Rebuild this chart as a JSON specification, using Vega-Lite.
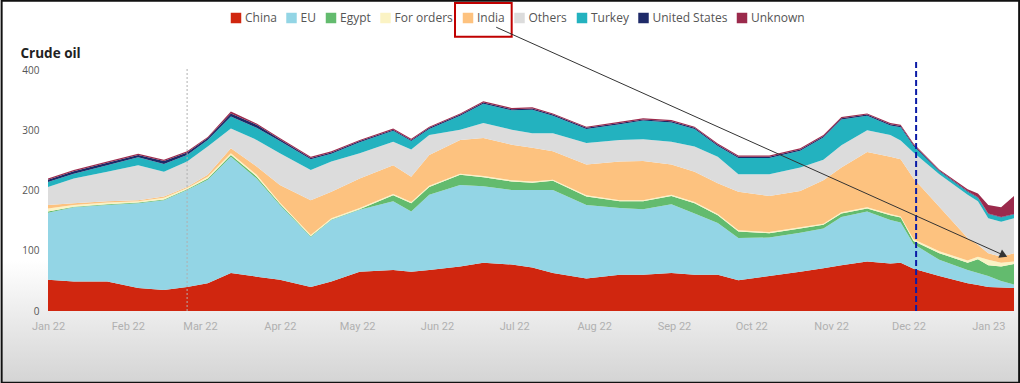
{
"$schema": "https://vega.github.io/schema/vega-lite/v6.json",
"width": 966,
"height": 241,
"autosize": {"type": "none"},
"padding": {"left": 48, "top": 70, "right": 6, "bottom": 72},
"background": "white",
"config": {"view": {"stroke": null}, "font": "Open Sans"},
"datasets": {
"oil": [
{"date":"2022-01-01","country":"China","value":52},{"date":"2022-01-01","country":"EU","value":111},{"date":"2022-01-01","country":"Egypt","value":2},{"date":"2022-01-01","country":"For orders","value":5},{"date":"2022-01-01","country":"India","value":6},{"date":"2022-01-01","country":"Others","value":30},{"date":"2022-01-01","country":"Turkey","value":8},{"date":"2022-01-01","country":"United States","value":4},{"date":"2022-01-01","country":"Unknown","value":2},
{"date":"2022-01-11","country":"China","value":49},{"date":"2022-01-11","country":"EU","value":123},{"date":"2022-01-11","country":"Egypt","value":1},{"date":"2022-01-11","country":"For orders","value":3},{"date":"2022-01-11","country":"India","value":3},{"date":"2022-01-11","country":"Others","value":41},{"date":"2022-01-11","country":"Turkey","value":8},{"date":"2022-01-11","country":"United States","value":4},{"date":"2022-01-11","country":"Unknown","value":2},
{"date":"2022-01-24","country":"China","value":49},{"date":"2022-01-24","country":"EU","value":127},{"date":"2022-01-24","country":"Egypt","value":1},{"date":"2022-01-24","country":"For orders","value":3},{"date":"2022-01-24","country":"India","value":2},{"date":"2022-01-24","country":"Others","value":49},{"date":"2022-01-24","country":"Turkey","value":11},{"date":"2022-01-24","country":"United States","value":4},{"date":"2022-01-24","country":"Unknown","value":2},
{"date":"2022-02-05","country":"China","value":38},{"date":"2022-02-05","country":"EU","value":141},{"date":"2022-02-05","country":"Egypt","value":1},{"date":"2022-02-05","country":"For orders","value":2},{"date":"2022-02-05","country":"India","value":2},{"date":"2022-02-05","country":"Others","value":58},{"date":"2022-02-05","country":"Turkey","value":13},{"date":"2022-02-05","country":"United States","value":4},{"date":"2022-02-05","country":"Unknown","value":2},
{"date":"2022-02-15","country":"China","value":35},{"date":"2022-02-15","country":"EU","value":149},{"date":"2022-02-15","country":"Egypt","value":1},{"date":"2022-02-15","country":"For orders","value":3},{"date":"2022-02-15","country":"India","value":2},{"date":"2022-02-15","country":"Others","value":41},{"date":"2022-02-15","country":"Turkey","value":13},{"date":"2022-02-15","country":"United States","value":5},{"date":"2022-02-15","country":"Unknown","value":2},
{"date":"2022-02-24","country":"China","value":40},{"date":"2022-02-24","country":"EU","value":161},{"date":"2022-02-24","country":"Egypt","value":1},{"date":"2022-02-24","country":"For orders","value":2},{"date":"2022-02-24","country":"India","value":2},{"date":"2022-02-24","country":"Others","value":42},{"date":"2022-02-24","country":"Turkey","value":11},{"date":"2022-02-24","country":"United States","value":4},{"date":"2022-02-24","country":"Unknown","value":2},
{"date":"2022-03-04","country":"China","value":46},{"date":"2022-03-04","country":"EU","value":172},{"date":"2022-03-04","country":"Egypt","value":2},{"date":"2022-03-04","country":"For orders","value":3},{"date":"2022-03-04","country":"India","value":3},{"date":"2022-03-04","country":"Others","value":47},{"date":"2022-03-04","country":"Turkey","value":11},{"date":"2022-03-04","country":"United States","value":3},{"date":"2022-03-04","country":"Unknown","value":2},
{"date":"2022-03-13","country":"China","value":63},{"date":"2022-03-13","country":"EU","value":193},{"date":"2022-03-13","country":"Egypt","value":3},{"date":"2022-03-13","country":"For orders","value":3},{"date":"2022-03-13","country":"India","value":8},{"date":"2022-03-13","country":"Others","value":33},{"date":"2022-03-13","country":"Turkey","value":20},{"date":"2022-03-13","country":"United States","value":5},{"date":"2022-03-13","country":"Unknown","value":3},
{"date":"2022-03-23","country":"China","value":57},{"date":"2022-03-23","country":"EU","value":163},{"date":"2022-03-23","country":"Egypt","value":3},{"date":"2022-03-23","country":"For orders","value":3},{"date":"2022-03-23","country":"India","value":14},{"date":"2022-03-23","country":"Others","value":44},{"date":"2022-03-23","country":"Turkey","value":20},{"date":"2022-03-23","country":"United States","value":5},{"date":"2022-03-23","country":"Unknown","value":2},
{"date":"2022-04-01","country":"China","value":52},{"date":"2022-04-01","country":"EU","value":124},{"date":"2022-04-01","country":"Egypt","value":2},{"date":"2022-04-01","country":"For orders","value":2},{"date":"2022-04-01","country":"India","value":29},{"date":"2022-04-01","country":"Others","value":53},{"date":"2022-04-01","country":"Turkey","value":20},{"date":"2022-04-01","country":"United States","value":3},{"date":"2022-04-01","country":"Unknown","value":2},
{"date":"2022-04-13","country":"China","value":40},{"date":"2022-04-13","country":"EU","value":83},{"date":"2022-04-13","country":"Egypt","value":1},{"date":"2022-04-13","country":"For orders","value":2},{"date":"2022-04-13","country":"India","value":58},{"date":"2022-04-13","country":"Others","value":50},{"date":"2022-04-13","country":"Turkey","value":18},{"date":"2022-04-13","country":"United States","value":2},{"date":"2022-04-13","country":"Unknown","value":2},
{"date":"2022-04-21","country":"China","value":49},{"date":"2022-04-21","country":"EU","value":102},{"date":"2022-04-21","country":"Egypt","value":1},{"date":"2022-04-21","country":"For orders","value":2},{"date":"2022-04-21","country":"India","value":44},{"date":"2022-04-21","country":"Others","value":50},{"date":"2022-04-21","country":"Turkey","value":13},{"date":"2022-04-21","country":"United States","value":2},{"date":"2022-04-21","country":"Unknown","value":2},
{"date":"2022-05-02","country":"China","value":65},{"date":"2022-05-02","country":"EU","value":103},{"date":"2022-05-02","country":"Egypt","value":1},{"date":"2022-05-02","country":"For orders","value":2},{"date":"2022-05-02","country":"India","value":49},{"date":"2022-05-02","country":"Others","value":42},{"date":"2022-05-02","country":"Turkey","value":18},{"date":"2022-05-02","country":"United States","value":2},{"date":"2022-05-02","country":"Unknown","value":2},
{"date":"2022-05-15","country":"China","value":68},{"date":"2022-05-15","country":"EU","value":114},{"date":"2022-05-15","country":"Egypt","value":10},{"date":"2022-05-15","country":"For orders","value":2},{"date":"2022-05-15","country":"India","value":48},{"date":"2022-05-15","country":"Others","value":39},{"date":"2022-05-15","country":"Turkey","value":18},{"date":"2022-05-15","country":"United States","value":2},{"date":"2022-05-15","country":"Unknown","value":2},
{"date":"2022-05-22","country":"China","value":65},{"date":"2022-05-22","country":"EU","value":100},{"date":"2022-05-22","country":"Egypt","value":14},{"date":"2022-05-22","country":"For orders","value":2},{"date":"2022-05-22","country":"India","value":42},{"date":"2022-05-22","country":"Others","value":45},{"date":"2022-05-22","country":"Turkey","value":14},{"date":"2022-05-22","country":"United States","value":2},{"date":"2022-05-22","country":"Unknown","value":2},
{"date":"2022-05-29","country":"China","value":68},{"date":"2022-05-29","country":"EU","value":125},{"date":"2022-05-29","country":"Egypt","value":13},{"date":"2022-05-29","country":"For orders","value":2},{"date":"2022-05-29","country":"India","value":51},{"date":"2022-05-29","country":"Others","value":33},{"date":"2022-05-29","country":"Turkey","value":10},{"date":"2022-05-29","country":"United States","value":2},{"date":"2022-05-29","country":"Unknown","value":2},
{"date":"2022-06-10","country":"China","value":74},{"date":"2022-06-10","country":"EU","value":135},{"date":"2022-06-10","country":"Egypt","value":17},{"date":"2022-06-10","country":"For orders","value":2},{"date":"2022-06-10","country":"India","value":56},{"date":"2022-06-10","country":"Others","value":17},{"date":"2022-06-10","country":"Turkey","value":23},{"date":"2022-06-10","country":"United States","value":2},{"date":"2022-06-10","country":"Unknown","value":2},
{"date":"2022-06-19","country":"China","value":80},{"date":"2022-06-19","country":"EU","value":127},{"date":"2022-06-19","country":"Egypt","value":15},{"date":"2022-06-19","country":"For orders","value":2},{"date":"2022-06-19","country":"India","value":63},{"date":"2022-06-19","country":"Others","value":25},{"date":"2022-06-19","country":"Turkey","value":32},{"date":"2022-06-19","country":"United States","value":2},{"date":"2022-06-19","country":"Unknown","value":2},
{"date":"2022-06-30","country":"China","value":77},{"date":"2022-06-30","country":"EU","value":124},{"date":"2022-06-30","country":"Egypt","value":14},{"date":"2022-06-30","country":"For orders","value":2},{"date":"2022-06-30","country":"India","value":59},{"date":"2022-06-30","country":"Others","value":25},{"date":"2022-06-30","country":"Turkey","value":32},{"date":"2022-06-30","country":"United States","value":2},{"date":"2022-06-30","country":"Unknown","value":2},
{"date":"2022-07-08","country":"China","value":72},{"date":"2022-07-08","country":"EU","value":129},{"date":"2022-07-08","country":"Egypt","value":12},{"date":"2022-07-08","country":"For orders","value":2},{"date":"2022-07-08","country":"India","value":56},{"date":"2022-07-08","country":"Others","value":24},{"date":"2022-07-08","country":"Turkey","value":39},{"date":"2022-07-08","country":"United States","value":2},{"date":"2022-07-08","country":"Unknown","value":2},
{"date":"2022-07-16","country":"China","value":63},{"date":"2022-07-16","country":"EU","value":138},{"date":"2022-07-16","country":"Egypt","value":15},{"date":"2022-07-16","country":"For orders","value":2},{"date":"2022-07-16","country":"India","value":47},{"date":"2022-07-16","country":"Others","value":30},{"date":"2022-07-16","country":"Turkey","value":29},{"date":"2022-07-16","country":"United States","value":2},{"date":"2022-07-16","country":"Unknown","value":2},
{"date":"2022-07-29","country":"China","value":54},{"date":"2022-07-29","country":"EU","value":122},{"date":"2022-07-29","country":"Egypt","value":14},{"date":"2022-07-29","country":"For orders","value":2},{"date":"2022-07-29","country":"India","value":51},{"date":"2022-07-29","country":"Others","value":36},{"date":"2022-07-29","country":"Turkey","value":23},{"date":"2022-07-29","country":"United States","value":2},{"date":"2022-07-29","country":"Unknown","value":2},
{"date":"2022-08-11","country":"China","value":60},{"date":"2022-08-11","country":"EU","value":111},{"date":"2022-08-11","country":"Egypt","value":11},{"date":"2022-08-11","country":"For orders","value":2},{"date":"2022-08-11","country":"India","value":64},{"date":"2022-08-11","country":"Others","value":36},{"date":"2022-08-11","country":"Turkey","value":26},{"date":"2022-08-11","country":"United States","value":2},{"date":"2022-08-11","country":"Unknown","value":2},
{"date":"2022-08-20","country":"China","value":60},{"date":"2022-08-20","country":"EU","value":109},{"date":"2022-08-20","country":"Egypt","value":13},{"date":"2022-08-20","country":"For orders","value":2},{"date":"2022-08-20","country":"India","value":65},{"date":"2022-08-20","country":"Others","value":36},{"date":"2022-08-20","country":"Turkey","value":31},{"date":"2022-08-20","country":"United States","value":2},{"date":"2022-08-20","country":"Unknown","value":2},
{"date":"2022-08-31","country":"China","value":63},{"date":"2022-08-31","country":"EU","value":114},{"date":"2022-08-31","country":"Egypt","value":14},{"date":"2022-08-31","country":"For orders","value":2},{"date":"2022-08-31","country":"India","value":50},{"date":"2022-08-31","country":"Others","value":38},{"date":"2022-08-31","country":"Turkey","value":32},{"date":"2022-08-31","country":"United States","value":2},{"date":"2022-08-31","country":"Unknown","value":2},
{"date":"2022-09-09","country":"China","value":60},{"date":"2022-09-09","country":"EU","value":102},{"date":"2022-09-09","country":"Egypt","value":17},{"date":"2022-09-09","country":"For orders","value":2},{"date":"2022-09-09","country":"India","value":50},{"date":"2022-09-09","country":"Others","value":42},{"date":"2022-09-09","country":"Turkey","value":29},{"date":"2022-09-09","country":"United States","value":2},{"date":"2022-09-09","country":"Unknown","value":2},
{"date":"2022-09-18","country":"China","value":60},{"date":"2022-09-18","country":"EU","value":86},{"date":"2022-09-18","country":"Egypt","value":13},{"date":"2022-09-18","country":"For orders","value":2},{"date":"2022-09-18","country":"India","value":51},{"date":"2022-09-18","country":"Others","value":44},{"date":"2022-09-18","country":"Turkey","value":18},{"date":"2022-09-18","country":"United States","value":2},{"date":"2022-09-18","country":"Unknown","value":2},
{"date":"2022-09-26","country":"China","value":51},{"date":"2022-09-26","country":"EU","value":70},{"date":"2022-09-26","country":"Egypt","value":11},{"date":"2022-09-26","country":"For orders","value":2},{"date":"2022-09-26","country":"India","value":64},{"date":"2022-09-26","country":"Others","value":29},{"date":"2022-09-26","country":"Turkey","value":27},{"date":"2022-09-26","country":"United States","value":2},{"date":"2022-09-26","country":"Unknown","value":2},
{"date":"2022-10-08","country":"China","value":58},{"date":"2022-10-08","country":"EU","value":64},{"date":"2022-10-08","country":"Egypt","value":7},{"date":"2022-10-08","country":"For orders","value":2},{"date":"2022-10-08","country":"India","value":60},{"date":"2022-10-08","country":"Others","value":36},{"date":"2022-10-08","country":"Turkey","value":27},{"date":"2022-10-08","country":"United States","value":2},{"date":"2022-10-08","country":"Unknown","value":2},
{"date":"2022-10-20","country":"China","value":65},{"date":"2022-10-20","country":"EU","value":65},{"date":"2022-10-20","country":"Egypt","value":7},{"date":"2022-10-20","country":"For orders","value":2},{"date":"2022-10-20","country":"India","value":60},{"date":"2022-10-20","country":"Others","value":39},{"date":"2022-10-20","country":"Turkey","value":28},{"date":"2022-10-20","country":"United States","value":2},{"date":"2022-10-20","country":"Unknown","value":2},
{"date":"2022-10-29","country":"China","value":71},{"date":"2022-10-29","country":"EU","value":66},{"date":"2022-10-29","country":"Egypt","value":6},{"date":"2022-10-29","country":"For orders","value":2},{"date":"2022-10-29","country":"India","value":72},{"date":"2022-10-29","country":"Others","value":34},{"date":"2022-10-29","country":"Turkey","value":37},{"date":"2022-10-29","country":"United States","value":2},{"date":"2022-10-29","country":"Unknown","value":2},
{"date":"2022-11-05","country":"China","value":76},{"date":"2022-11-05","country":"EU","value":80},{"date":"2022-11-05","country":"Egypt","value":6},{"date":"2022-11-05","country":"For orders","value":2},{"date":"2022-11-05","country":"India","value":74},{"date":"2022-11-05","country":"Others","value":37},{"date":"2022-11-05","country":"Turkey","value":43},{"date":"2022-11-05","country":"United States","value":2},{"date":"2022-11-05","country":"Unknown","value":2},
{"date":"2022-11-15","country":"China","value":82},{"date":"2022-11-15","country":"EU","value":83},{"date":"2022-11-15","country":"Egypt","value":5},{"date":"2022-11-15","country":"For orders","value":2},{"date":"2022-11-15","country":"India","value":92},{"date":"2022-11-15","country":"Others","value":36},{"date":"2022-11-15","country":"Turkey","value":24},{"date":"2022-11-15","country":"United States","value":2},{"date":"2022-11-15","country":"Unknown","value":2},
{"date":"2022-11-24","country":"China","value":79},{"date":"2022-11-24","country":"EU","value":72},{"date":"2022-11-24","country":"Egypt","value":8},{"date":"2022-11-24","country":"For orders","value":2},{"date":"2022-11-24","country":"India","value":95},{"date":"2022-11-24","country":"Others","value":36},{"date":"2022-11-24","country":"Turkey","value":16},{"date":"2022-11-24","country":"United States","value":2},{"date":"2022-11-24","country":"Unknown","value":2},
{"date":"2022-11-28","country":"China","value":80},{"date":"2022-11-28","country":"EU","value":67},{"date":"2022-11-28","country":"Egypt","value":8},{"date":"2022-11-28","country":"For orders","value":2},{"date":"2022-11-28","country":"India","value":95},{"date":"2022-11-28","country":"Others","value":31},{"date":"2022-11-28","country":"Turkey","value":22},{"date":"2022-11-28","country":"United States","value":2},{"date":"2022-11-28","country":"Unknown","value":2},
{"date":"2022-12-03","country":"China","value":70},{"date":"2022-12-03","country":"EU","value":41},{"date":"2022-12-03","country":"Egypt","value":5},{"date":"2022-12-03","country":"For orders","value":3},{"date":"2022-12-03","country":"India","value":101},{"date":"2022-12-03","country":"Others","value":43},{"date":"2022-12-03","country":"Turkey","value":11},{"date":"2022-12-03","country":"United States","value":2},{"date":"2022-12-03","country":"Unknown","value":2},
{"date":"2022-12-13","country":"China","value":58},{"date":"2022-12-13","country":"EU","value":27},{"date":"2022-12-13","country":"Egypt","value":11},{"date":"2022-12-13","country":"For orders","value":3},{"date":"2022-12-13","country":"India","value":74},{"date":"2022-12-13","country":"Others","value":54},{"date":"2022-12-13","country":"Turkey","value":5},{"date":"2022-12-13","country":"United States","value":1},{"date":"2022-12-13","country":"Unknown","value":2},
{"date":"2022-12-24","country":"China","value":46},{"date":"2022-12-24","country":"EU","value":22},{"date":"2022-12-24","country":"Egypt","value":12},{"date":"2022-12-24","country":"For orders","value":4},{"date":"2022-12-24","country":"India","value":37},{"date":"2022-12-24","country":"Others","value":72},{"date":"2022-12-24","country":"Turkey","value":5},{"date":"2022-12-24","country":"United States","value":1},{"date":"2022-12-24","country":"Unknown","value":3},
{"date":"2022-12-28","country":"China","value":43},{"date":"2022-12-28","country":"EU","value":20},{"date":"2022-12-28","country":"Egypt","value":23},{"date":"2022-12-28","country":"For orders","value":4},{"date":"2022-12-28","country":"India","value":20},{"date":"2022-12-28","country":"Others","value":72},{"date":"2022-12-28","country":"Turkey","value":6},{"date":"2022-12-28","country":"United States","value":1},{"date":"2022-12-28","country":"Unknown","value":6},
{"date":"2023-01-01","country":"China","value":40},{"date":"2023-01-01","country":"EU","value":18},{"date":"2023-01-01","country":"Egypt","value":18},{"date":"2023-01-01","country":"For orders","value":9},{"date":"2023-01-01","country":"India","value":11},{"date":"2023-01-01","country":"Others","value":58},{"date":"2023-01-01","country":"Turkey","value":7},{"date":"2023-01-01","country":"United States","value":1},{"date":"2023-01-01","country":"Unknown","value":14},
{"date":"2023-01-06","country":"China","value":39},{"date":"2023-01-06","country":"EU","value":11},{"date":"2023-01-06","country":"Egypt","value":24},{"date":"2023-01-06","country":"For orders","value":6},{"date":"2023-01-06","country":"India","value":10},{"date":"2023-01-06","country":"Others","value":58},{"date":"2023-01-06","country":"Turkey","value":7},{"date":"2023-01-06","country":"United States","value":1},{"date":"2023-01-06","country":"Unknown","value":16},
{"date":"2023-01-11","country":"China","value":38},{"date":"2023-01-11","country":"EU","value":6},{"date":"2023-01-11","country":"Egypt","value":34},{"date":"2023-01-11","country":"For orders","value":4},{"date":"2023-01-11","country":"India","value":14},{"date":"2023-01-11","country":"Others","value":58},{"date":"2023-01-11","country":"Turkey","value":6},{"date":"2023-01-11","country":"United States","value":1},{"date":"2023-01-11","country":"Unknown","value":30}
]
},
"layer": [
{
"data": {"values": [{"start": "2021-12-14", "end": "2023-01-13", "top": 515, "bottom": -119}]},
"mark": {"type": "rect", "stroke": "#111111", "strokeWidth": 2, "fill": {"gradient": "linear", "x1": 0, "y1": 0, "x2": 0, "y2": 1, "stops": [{"offset": 0, "color": "#ffffff"}, {"offset": 0.68, "color": "#ffffff"}, {"offset": 1, "color": "#d4d4d4"}]}},
"encoding": {
"x": {"field": "start", "type": "temporal", "scale": {"type": "utc", "domain": [{"year": 2022, "month": 1, "date": 1, "utc": true}, {"year": 2023, "month": 1, "date": 11, "utc": true}], "nice": false}},
"x2": {"field": "end"},
"y": {"field": "top", "type": "quantitative", "scale": {"domain": [0, 400], "nice": false}},
"y2": {"field": "bottom"}
}
},
{
"data": {"name": "oil"},
"mark": {"type": "area", "interpolate": "linear"},
"encoding": {
"x": {"field": "date", "type": "temporal", "scale": {"type": "utc", "domain": [{"year": 2022, "month": 1, "date": 1, "utc": true}, {"year": 2023, "month": 1, "date": 11, "utc": true}], "nice": false},
"axis": {"title": null, "format": "%b %y", "tickCount": {"interval": "month", "step": 1}, "labelFlush": false, "labelOverlap": false, "domain": false, "ticks": false, "grid": false, "labelColor": "#b0b0b0", "labelFontSize": 11, "labelFont": "Roboto", "labelPadding": 9, "zindex": 1}},
"y": {"field": "value", "type": "quantitative", "stack": "zero", "scale": {"domain": [0, 400], "nice": false},
"axis": {"values": [0, 100, 200, 300, 400], "domain": false, "ticks": false, "grid": false, "labelColor": "#555555", "labelFontSize": 10, "labelFont": "Open Sans", "labelPadding": 9, "title": "Crude oil", "titleAngle": 0, "titleAlign": "left", "titleBaseline": "alphabetic", "titleX": -28, "titleY": -13, "titleFontSize": 13.5, "titleFontWeight": "bold", "titleColor": "#222222", "titleFont": "Open Sans", "zindex": 1}},
"color": {"field": "country", "type": "nominal",
"scale": {"domain": ["China", "EU", "Egypt", "For orders", "India", "Others", "Turkey", "United States", "Unknown"], "range": ["#d0260f", "#93d5e5", "#63bb6e", "#fbf3c4", "#fdc27f", "#dcdcdc", "#23b2bf", "#1e2a68", "#9b2a4c"]},
"legend": {"orient": "none", "legendX": 182, "legendY": -58, "direction": "horizontal", "title": null, "symbolType": "square", "symbolSize": 110, "symbolStrokeWidth": 0, "labelFont": "Open Sans", "labelFontSize": 12, "labelColor": "#555555", "columnPadding": 8.5, "labelOffset": 3, "padding": 0}},
"order": {"field": "country", "sort": "ascending"}
}
},
{
"data": {"values": [{"date": "2022-02-24", "bottom": 0, "top": 404}]},
"mark": {"type": "rule", "color": "#b0b0b0", "strokeWidth": 1, "strokeDash": [2, 2]},
"encoding": {
"x": {"field": "date", "type": "temporal", "scale": {"type": "utc", "domain": [{"year": 2022, "month": 1, "date": 1, "utc": true}, {"year": 2023, "month": 1, "date": 11, "utc": true}], "nice": false}},
"y": {"field": "bottom", "type": "quantitative", "scale": {"domain": [0, 400], "nice": false}},
"y2": {"field": "top"}
}
},
{
"data": {"values": [{"date": "2022-12-04", "bottom": 0, "top": 414}]},
"mark": {"type": "rule", "color": "#0b1ba6", "strokeWidth": 2, "strokeDash": [6, 3]},
"encoding": {
"x": {"field": "date", "type": "temporal", "scale": {"type": "utc", "domain": [{"year": 2022, "month": 1, "date": 1, "utc": true}, {"year": 2023, "month": 1, "date": 11, "utc": true}], "nice": false}},
"y": {"field": "bottom", "type": "quantitative", "scale": {"domain": [0, 400], "nice": false}},
"y2": {"field": "top"}
}
},
{
"data": {"values": [{"start": "2022-06-08", "end": "2022-06-30", "top": 511, "bottom": 455}]},
"mark": {"type": "rect", "filled": false, "stroke": "#c00000", "strokeWidth": 2},
"encoding": {
"x": {"field": "start", "type": "temporal", "scale": {"type": "utc", "domain": [{"year": 2022, "month": 1, "date": 1, "utc": true}, {"year": 2023, "month": 1, "date": 11, "utc": true}], "nice": false}},
"x2": {"field": "end"},
"y": {"field": "top", "type": "quantitative", "scale": {"domain": [0, 400], "nice": false}},
"y2": {"field": "bottom"}
}
},
{
"data": {"values": [{"start": "2022-06-24", "end": "2023-01-07", "from": 471, "to": 92.6}]},
"mark": {"type": "rule", "color": "#333333", "strokeWidth": 1},
"encoding": {
"x": {"field": "start", "type": "temporal", "scale": {"type": "utc", "domain": [{"year": 2022, "month": 1, "date": 1, "utc": true}, {"year": 2023, "month": 1, "date": 11, "utc": true}], "nice": false}},
"x2": {"field": "end"},
"y": {"field": "from", "type": "quantitative", "scale": {"domain": [0, 400], "nice": false}},
"y2": {"field": "to"}
}
},
{
"data": {"values": [{"date": "2023-01-07", "value": 92.6}]},
"mark": {"type": "point", "shape": "triangle-right", "filled": true, "color": "#333333", "size": 80, "angle": 24, "opacity": 1},
"encoding": {
"x": {"field": "date", "type": "temporal", "scale": {"type": "utc", "domain": [{"year": 2022, "month": 1, "date": 1, "utc": true}, {"year": 2023, "month": 1, "date": 11, "utc": true}], "nice": false}},
"y": {"field": "value", "type": "quantitative", "scale": {"domain": [0, 400], "nice": false}}
}
}
]
}
